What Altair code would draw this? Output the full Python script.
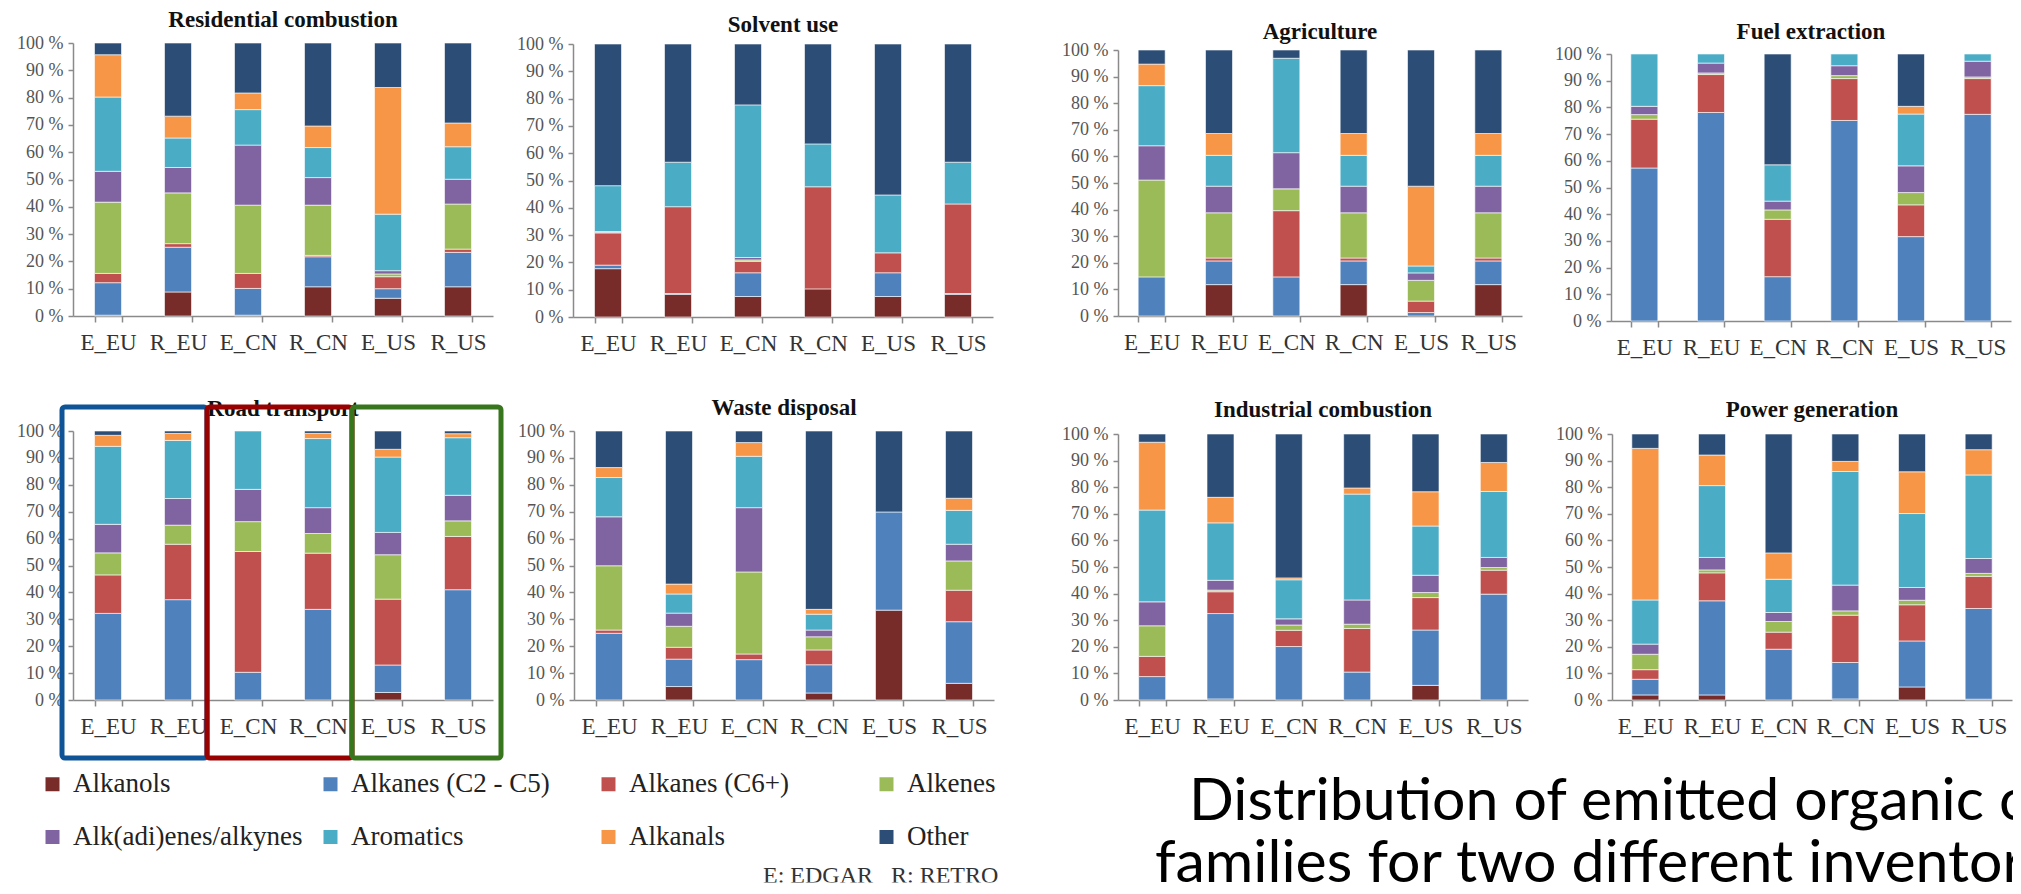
import altair as alt
import pandas as pd

inventories = ["E_EU", "R_EU", "E_CN", "R_CN", "E_US", "R_US"]
families = ["Alkanols", "Alkanes (C2 - C5)", "Alkanes (C6+)", "Alkenes",
            "Alk(adi)enes/alkynes", "Aromatics", "Alkanals", "Other"]
family_colors = ["#772C2A", "#4F81BD", "#C0504D", "#9BBB59",
                 "#8064A2", "#4BACC6", "#F79646", "#2C4D75"]

# shares (%) per inventory (rows) and family (columns)
residential = [
    [0.3, 11.9, 3.4, 26.1, 11.3, 27.2, 15.5, 4.3],
    [8.8, 16.4, 1.3, 18.6, 9.3, 10.8, 8.0, 26.8],
    [0.3, 9.8, 5.5, 25.0, 22.0, 13.0, 6.1, 18.3],
    [10.7, 11.0, 0.5, 18.4, 10.1, 11.0, 7.9, 30.4],
    [6.5, 3.5, 4.4, 1.0, 1.2, 20.7, 46.4, 16.3],
    [10.7, 12.6, 1.2, 16.5, 9.1, 11.9, 8.7, 29.3],
]
solvent = [
    [17.7, 1.3, 11.8, 0.2, 0.3, 16.8, 0, 51.9],
    [8.3, 0.3, 31.8, 0, 0, 16.3, 0, 43.3],
    [7.5, 8.7, 4.2, 0.5, 0.9, 55.9, 0, 22.3],
    [10.3, 0, 37.4, 0, 0, 15.7, 0, 36.6],
    [7.5, 8.7, 7.3, 0, 0, 21.2, 0, 55.3],
    [8.3, 0.3, 32.8, 0, 0, 15.3, 0, 43.3],
]
agriculture = [
    [0, 14.7, 0, 36.4, 12.9, 22.6, 8.1, 5.3],
    [11.8, 8.9, 1.1, 17.0, 10.0, 11.6, 8.2, 31.4],
    [0, 14.7, 24.9, 8.2, 13.6, 35.5, 0, 3.1],
    [11.8, 8.9, 1.1, 17.0, 10.0, 11.6, 8.2, 31.4],
    [0, 1.3, 4.3, 7.8, 2.8, 2.6, 30.0, 51.2],
    [11.8, 8.9, 1.1, 17.0, 10.0, 11.6, 8.2, 31.4],
]
fuel_extraction = [
    [0, 57.3, 18.3, 1.7, 3.1, 19.6, 0, 0],
    [0, 78.1, 14.2, 0.6, 3.7, 3.4, 0, 0],
    [0, 16.6, 21.5, 3.5, 3.3, 13.6, 0, 41.5],
    [0, 75.1, 15.7, 1.1, 3.7, 4.4, 0, 0],
    [0, 31.6, 11.9, 4.6, 10.0, 19.4, 2.9, 19.6],
    [0, 77.4, 13.4, 0.6, 5.9, 2.7, 0, 0],
]
road_transport = [
    [0, 32.2, 14.3, 8.2, 10.6, 29.0, 4.1, 1.6],
    [0, 37.3, 20.6, 7.1, 9.9, 21.6, 2.6, 0.9],
    [0, 10.3, 44.9, 11.1, 12.0, 21.7, 0, 0],
    [0, 33.7, 20.9, 7.3, 9.6, 25.7, 1.9, 0.9],
    [2.8, 10.2, 24.5, 16.5, 8.3, 28.0, 2.9, 6.8],
    [0, 41.0, 19.8, 5.8, 9.5, 21.4, 1.5, 1.0],
]
waste_disposal = [
    [0, 24.8, 1.2, 23.9, 18.2, 14.6, 3.7, 13.6],
    [5.0, 10.2, 4.4, 7.8, 4.9, 7.1, 3.7, 56.9],
    [0, 15.0, 2.1, 30.5, 23.9, 19.1, 5.1, 4.3],
    [2.6, 10.5, 5.5, 4.9, 2.5, 5.9, 1.8, 66.3],
    [33.4, 36.5, 0, 0, 0, 0, 0, 30.1],
    [6.2, 22.9, 11.7, 10.9, 6.2, 12.6, 4.5, 25.0],
]
industrial_combustion = [
    [0, 8.8, 7.6, 11.5, 9.0, 34.5, 25.5, 3.1],
    [0.4, 32.1, 8.2, 0.6, 3.7, 21.6, 9.6, 23.8],
    [0, 20.1, 6.1, 2.0, 2.3, 14.7, 0.7, 54.1],
    [0, 10.5, 16.4, 1.6, 9.1, 39.8, 2.3, 20.3],
    [5.5, 20.8, 12.2, 1.9, 6.5, 18.5, 12.9, 21.7],
    [0, 39.8, 9.0, 1.0, 3.8, 24.8, 10.9, 10.7],
]
power_generation = [
    [1.9, 5.9, 3.6, 5.8, 3.8, 16.6, 57.0, 5.4],
    [1.9, 35.4, 10.5, 1.1, 4.7, 27.0, 11.5, 7.9],
    [0, 19.1, 6.4, 4.0, 3.4, 12.5, 9.9, 44.7],
    [0.4, 13.7, 17.8, 1.6, 9.7, 42.7, 3.8, 10.3],
    [4.9, 17.3, 13.6, 1.7, 4.8, 27.8, 15.7, 14.2],
    [0.3, 34.1, 12.1, 1.1, 5.6, 31.4, 9.5, 5.9],
]

y_ticks = [i / 10 for i in range(11)]
caption_lines = ["Distribution of emitted organic compounds",
                 "families for two different inventories"]
key_note = "E: EDGAR\u00a0\u00a0\u00a0R: RETRO"
box_colors = ["#0E5496", "#990000", "#38761D"]

SERIF = "Liberation Serif"
AXIS_GRAY = "#8a8a8a"
NO_FRAME = alt.ViewBackground(stroke="transparent", strokeWidth=0, strokeOpacity=0)

# legend is laid out column by column (2 rows), so interleave the two legend rows
legend_pos = [0, 4, 1, 5, 2, 6, 3, 7]
legend_domain = [families[i] for i in legend_pos]
legend_range = [family_colors[i] for i in legend_pos]

legend = alt.Legend(orient="none", legendX=-34, legendY=727.5, columns=4,
                    gridAlign="all", columnPadding=14, rowPadding=25,
                    symbolType="square", symbolSize=196, symbolStrokeWidth=0,
                    labelFont=SERIF, labelFontSize=27, labelColor="#222222",
                    labelOffset=7, labelLimit=500, title=None, padding=0)
color_enc = alt.Color("family:N", scale=alt.Scale(domain=legend_domain, range=legend_range),
                      legend=legend)


def panel(title, values, width, height, top, title_y, extent, anchor, extras=()):
    rows = []
    for inv, vals in zip(inventories, values):
        for k, (fam, v) in enumerate(zip(families, vals)):
            if v > 0:
                rows.append({"inventory": inv, "family": fam, "rank": k, "share": v})
    df = pd.DataFrame(rows)
    step = width / 6.0
    pin = 1 - 27.0 / step
    xaxis = alt.Axis(title=None, labelAngle=0, tickBand="extent", tickSize=6,
                     labelPadding=9, labelFont=SERIF, labelFontSize=23,
                     labelColor="#333333", domainColor=AXIS_GRAY, tickColor=AXIS_GRAY,
                     domainWidth=1.5, tickWidth=1.5)
    yaxis = alt.Axis(title=None, values=y_ticks, labelExpr="round(datum.value*100) + ' %'",
                     tickSize=5, labelPadding=5, labelFont=SERIF, labelFontSize=18,
                     labelColor="#555555", domainColor=AXIS_GRAY, tickColor=AXIS_GRAY,
                     domainWidth=1.5, tickWidth=1.5, grid=False,
                     minExtent=extent, maxExtent=extent)
    bars = alt.Chart(df).mark_bar(stroke="white", strokeWidth=0.6).encode(
        x=alt.X("inventory:N", sort=inventories,
                scale=alt.Scale(domain=inventories, paddingInner=pin, paddingOuter=pin / 2),
                axis=xaxis),
        y=alt.Y("share:Q", stack="normalize",
                scale=alt.Scale(domain=[0, 1], range=[height, top], nice=False),
                axis=yaxis),
        color=color_enc,
        order=alt.Order("rank:Q", sort="ascending"),
    )
    ttl = alt.Chart(pd.DataFrame({"t": [title]})).mark_text(
        font=SERIF, fontSize=23, fontWeight="bold", align="center", baseline="middle",
        color="#111111").encode(text="t:N", x=alt.value(width / 2), y=alt.value(title_y))
    anchor_rule = alt.Chart(pd.DataFrame({"a": [0]})).mark_rule(opacity=0).encode(
        x=alt.value(0), x2=alt.value(1), y=alt.value(-anchor))
    return alt.layer(bars, ttl, anchor_rule, *extras).properties(
        width=width, height=height, view=NO_FRAME)


def box(color, x1, x2):
    return alt.Chart(pd.DataFrame({"b": [color]})).mark_rect(
        filled=False, stroke=color, strokeWidth=5, cornerRadius=3).encode(
        x=alt.value(x1), x2=alt.value(x2), y=alt.value(-24), y2=alt.value(327))


boxes = [box(box_colors[0], -11, 134), box(box_colors[1], 134, 279),
         box(box_colors[2], 279, 428)]

p1 = panel("Residential combustion", residential, 420, 273, 0, -23, 65, 35)
p2 = panel("Solvent use", solvent, 420, 274, 1, -18, 80, 35)
p3 = panel("Agriculture", agriculture, 404, 273, 7, -11, 125, 35)
p4 = panel("Fuel extraction", fuel_extraction, 400, 278, 11, -11, 89, 35)
p5 = panel("Road transport", road_transport, 420, 269, 0, -22, 65, 36, boxes)
p6 = panel("Waste disposal", waste_disposal, 420, 269, 0, -23, 69.5, 36)
p7 = panel("Industrial combustion", industrial_combustion, 410, 269, 3, -21, 124, 36)
p8 = panel("Power generation", power_generation, 400, 269, 3, -21, 84, 36)

row1 = alt.hconcat(p1, p2, p3, p4, spacing=0).resolve_scale(x="independent", y="independent")
row2 = alt.hconcat(p5, p6, p7, p8, spacing=0).resolve_scale(x="independent", y="independent")
grid = alt.vconcat(row1, row2, spacing=36).resolve_scale(x="independent", y="independent")

cap_style = dict(font="Lato", fontSize=59, align="left", baseline="alphabetic",
                 color="#000000", clip=True)
cap1 = alt.Chart(pd.DataFrame({"t": [caption_lines[0]]})).mark_text(**cap_style).encode(
    text="t:N", x=alt.value(1116), y=alt.value(58.5))
cap2 = alt.Chart(pd.DataFrame({"t": [caption_lines[1]]})).mark_text(**cap_style).encode(
    text="t:N", x=alt.value(1082), y=alt.value(121))
note = alt.Chart(pd.DataFrame({"t": [key_note]})).mark_text(
    font=SERIF, fontSize=24, align="left", baseline="alphabetic", color="#333333",
    clip=True).encode(text="t:N", x=alt.value(690), y=alt.value(121.5))
caption = alt.layer(cap1, cap2, note).properties(width=1940, height=121.5, view=NO_FRAME)

chart = alt.vconcat(grid, caption, spacing=0).resolve_scale(
    x="independent", y="independent").properties(padding=0).configure_view(
    stroke="transparent", strokeWidth=0).configure(background="white")

chart.save("out.html", embed_options={"renderer": "svg", "actions": False})
